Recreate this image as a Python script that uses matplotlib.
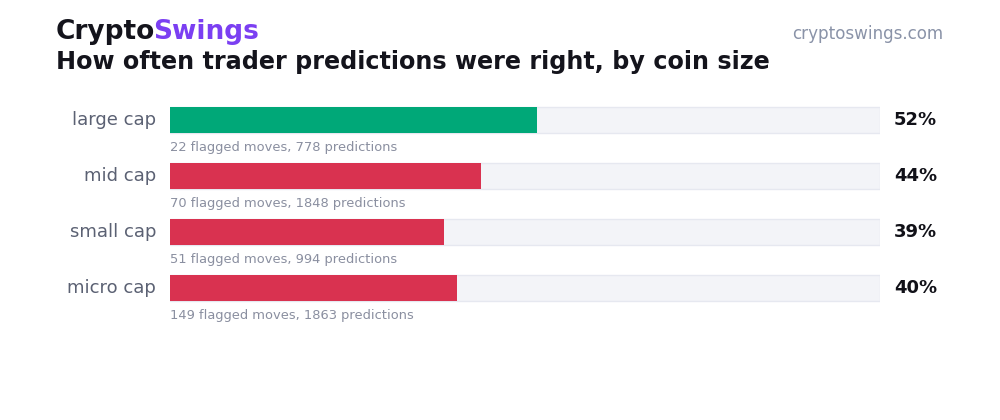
import matplotlib
matplotlib.use("Agg")
import matplotlib.pyplot as plt

plt.rcParams["font.family"] = ["DejaVu Sans"]

categories = ["large cap", "mid cap", "small cap", "micro cap"]
hit_rate = [51.7, 43.8, 38.6, 40.4]
flagged_moves = [22, 70, 51, 149]
predictions = [778, 1848, 994, 1863]
bar_colors = ["#00a878", "#d93250", "#d93250", "#d93250"]

W, H = 1000, 420
fig = plt.figure(figsize=(W / 100, H / 100), dpi=100)
fig.patch.set_facecolor("white")

def fx(px):
    return px / W

def fy(py):
    return 1 - py / H

row0, step = 120, 56
top = row0 - step / 2
bottom = row0 + step * (len(categories) - 0.5)
ax = fig.add_axes([fx(170), fy(bottom), fx(880) - fx(170), (bottom - top) / H])
ax.set_xlim(0, 100)
ax.set_ylim(len(categories) - 0.5, -0.5)
ax.axis("off")

bh = 26 / step
ys = list(range(len(categories)))
ax.barh(ys, [100] * len(categories), height=bh, color="#f3f4f8",
        edgecolor="#e6e8f0", linewidth=1.0, zorder=1)
ax.barh(ys, hit_rate, height=bh, color=bar_colors, zorder=2)

for i, cat in enumerate(categories):
    cy = row0 + step * i
    fig.text(fx(156), fy(cy), cat, ha="right", va="center",
             fontsize=13, color="#5b6173")
    fig.text(fx(894), fy(cy), f"{int(hit_rate[i] + 0.5)}%", ha="left", va="center",
             fontsize=13, fontweight="bold", color="#111118")
    fig.text(fx(170), fy(cy + 27), f"{flagged_moves[i]} flagged moves, {predictions[i]} predictions",
             ha="left", va="center", fontsize=9.4, color="#8a8fa0")

t1 = fig.text(fx(56), fy(39), "Crypto", ha="left", va="baseline",
              fontsize=19, fontweight="bold", color="#14141c")
fig.canvas.draw()
bb = t1.get_window_extent()
fig.text((bb.x1 - 2.5) / W, fy(39), "Swings", ha="left", va="baseline",
         fontsize=19, fontweight="bold", color="#7b3ff2")
fig.text(fx(56), fy(69), "How often trader predictions were right, by coin size",
         ha="left", va="baseline", fontsize=17.2, fontweight="bold", color="#14141c")
fig.text(fx(943), fy(34), "cryptoswings.com", ha="right", va="center",
         fontsize=12.1, color="#8a93a8")

fig.savefig("out.png", dpi=100, facecolor="white")
